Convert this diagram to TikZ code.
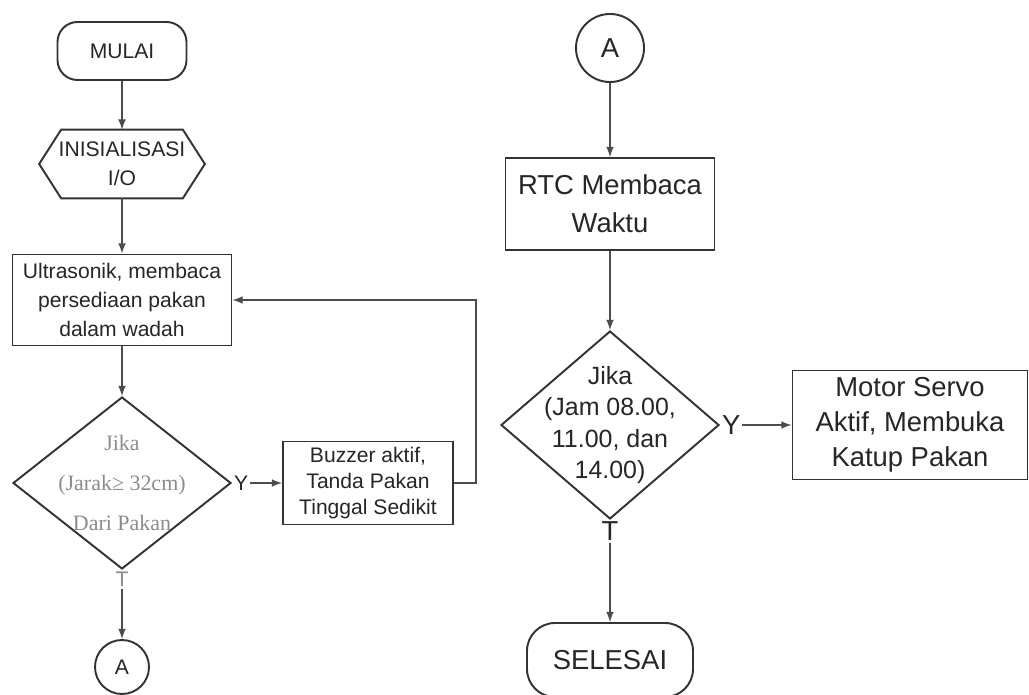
\documentclass[tikz,border=0pt]{standalone}
\usepackage{fontspec}
\setmainfont{Liberation Sans}
\newfontfamily\seriffont{Liberation Serif}
\usetikzlibrary{shapes.geometric,positioning}

\begin{document}
\begin{tikzpicture}[
  box/.style={rectangle, draw=black!80, line width=1.1pt, align=center, inner sep=0pt, text=black!85},
  terminal/.style={rectangle, draw=black!80, line width=1.1pt, inner sep=0pt, text=black!85},
  konektor/.style={circle, draw=black!80, line width=1.1pt, inner sep=0pt, text=black!85},
  keputusan/.style={diamond, draw=black!80, line width=1.1pt, inner sep=0pt},
  kecil/.style={font=\fontsize{12}{16.4}\selectfont},
  besar/.style={font=\fontsize{15.6}{21.5}\selectfont},
  garis/.style={->, black!70, line width=1pt},
  >=latex,
  node distance=2.2cm
]
\useasboundingbox (0,0) rectangle (20.58,13.88);

% kolom kiri
\node[terminal, kecil, rounded corners=0.4cm, minimum width=2.58cm, minimum height=1.16cm] (mulai) at (2.44,12.86) {MULAI};
\node[kecil, align=center, text=black!85, minimum width=3.3cm, minimum height=1.36cm, below of=mulai, node distance=2.26cm] (init) {INISIALISASI\\I/O};
\draw[black!80, line width=1.1pt] ([xshift=0.44cm]init.north west) -- ([xshift=-0.44cm]init.north east) -- (init.east)
  -- ([xshift=-0.44cm]init.south east) -- ([xshift=0.44cm]init.south west) -- (init.west) -- cycle;
\node[box, kecil, minimum width=4.38cm, minimum height=1.82cm, below of=init, node distance=2.72cm] (ultra) {Ultrasonik, membaca\\persediaan pakan\\dalam wadah};
\node[keputusan, minimum width=4.36cm, minimum height=3.44cm, below of=ultra, node distance=3.66cm] (cek1) {};
\node[align=center, text=black!45, font=\seriffont\fontsize{12.5}{22.7}\selectfont] (cek1teks) at (cek1) {Jika\\(Jarak≥ 32cm)\\Dari Pakan};
\node[box, kecil, font=\fontsize{12}{14.7}\selectfont, minimum width=3.4cm, minimum height=1.66cm, right of=cek1, node distance=4.92cm] (buzzer) {Buzzer aktif,\\Tanda Pakan\\Tinggal Sedikit};
\node[konektor, kecil, minimum size=1.08cm, below of=cek1, node distance=3.68cm] (konA1) {A};
\node[kecil, anchor=west, inner sep=1pt, text=black!85] (ya1) at (cek1.east) {Y};
\node[kecil, anchor=north, inner sep=1pt, text=black!45] (ti1) at (cek1.south) {T};

% kolom kanan
\node[konektor, besar, minimum size=1.36cm] (konA2) at (12.2,12.92) {A};
\node[box, besar, minimum width=4.18cm, minimum height=1.84cm, below of=konA2, node distance=3.12cm] (rtc) {RTC Membaca\\Waktu};
\node[keputusan, minimum width=4.36cm, minimum height=3.76cm, below of=rtc, node distance=4.42cm] (cek2) {};
\node[align=center, text=black!85, font=\fontsize{14.2}{18}\selectfont] (cek2teks) at (cek2) {Jika\\(Jam 08.00,\\11.00, dan\\14.00)};
\node[box, besar, font=\fontsize{15.6}{19.8}\selectfont, minimum width=4.7cm, minimum height=2.18cm, right of=cek2, node distance=6.0cm] (servo) {Motor Servo\\Aktif, Membuka\\Katup Pakan};
\node[terminal, besar, rounded corners=0.56cm, minimum width=3.32cm, minimum height=1.48cm, below of=cek2, node distance=4.70cm] (selesai) {SELESAI};
\node[besar, anchor=west, inner sep=1pt, text=black!85] (ya2) at (cek2.east) {Y};
\node[besar, anchor=north, inner sep=1pt, text=black!85] (ti2) at (cek2.south) {T};

\draw[garis] (mulai) -- (init);
\draw[garis] (init) -- (ultra);
\draw[garis] (ultra) -- (cek1);
\draw[garis] (ya1) -- (buzzer);
\draw[garis] (buzzer.east) -- ++(0.44,0) |- (ultra.east);
\draw[garis] (ti1) -- (konA1);
\draw[garis] (konA2) -- (rtc);
\draw[garis] (rtc) -- (cek2);
\draw[garis] (ya2) -- (servo);
\draw[garis] (ti2) -- (selesai);
\end{tikzpicture}
\end{document}
